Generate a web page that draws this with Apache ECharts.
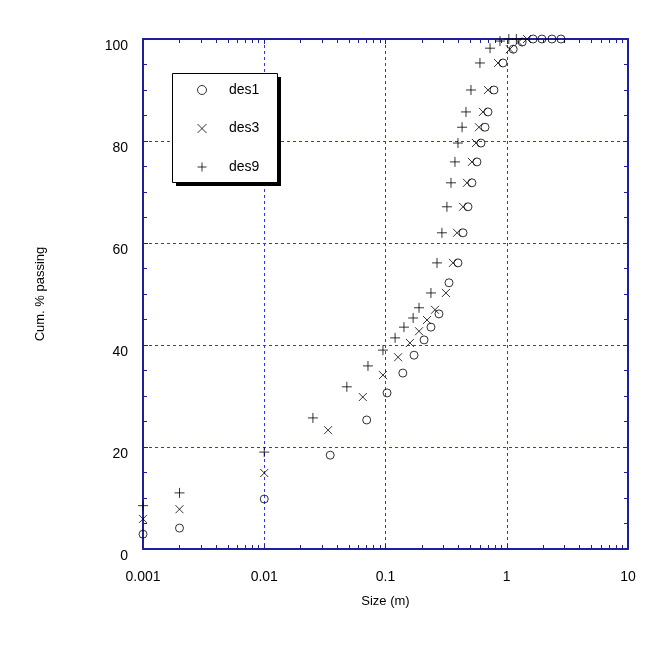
<!DOCTYPE html>
<html>
<head>
<meta charset="utf-8">
<script src="https://cdn.jsdelivr.net/npm/echarts@6/dist/echarts.min.js"></script>
<style>
  html, body { margin: 0; padding: 0; background: #fff; }
  #main { width: 667px; height: 667px; }
</style>
</head>
<body>
<div id="main"></div>
<script>
// sizes in m, cumulative % passing
const des1X = [0.001, 0.002, 0.01, 0.035, 0.07, 0.103, 0.139, 0.172, 0.208, 0.237, 0.276, 0.334, 0.396, 0.436, 0.479, 0.516, 0.568, 0.613, 0.662, 0.70, 0.785, 0.93, 1.13, 1.34, 1.65, 1.95, 2.36, 2.8];
const des1Y = [2.9, 4.1, 9.8, 18.4, 25.3, 30.6, 34.5, 38.0, 41.0, 43.5, 46.1, 52.2, 56.1, 62.0, 67.1, 71.8, 75.9, 79.6, 82.7, 85.7, 90.0, 95.3, 98.0, 99.4, 100, 100, 100, 100];

const des3X = [0.001, 0.002, 0.01, 0.0336, 0.065, 0.0953, 0.127, 0.159, 0.189, 0.22, 0.256, 0.315, 0.36, 0.389, 0.436, 0.47, 0.516, 0.557, 0.59, 0.637, 0.70, 0.847, 1.06, 1.25, 1.47];
const des3Y = [5.9, 7.8, 14.9, 23.3, 29.8, 34.1, 37.6, 40.4, 42.7, 44.9, 46.9, 50.2, 56.1, 62.0, 67.1, 71.8, 75.9, 79.6, 82.7, 85.7, 90.0, 95.3, 98.0, 99.4, 100];

const des9X = [0.001, 0.002, 0.01, 0.0252, 0.048, 0.0717, 0.0953, 0.12, 0.142, 0.169, 0.189, 0.237, 0.266, 0.292, 0.321, 0.347, 0.374, 0.396, 0.428, 0.461, 0.507, 0.601, 0.728, 0.879, 1.04, 1.2];
const des9Y = [8.5, 11.0, 19.0, 25.7, 31.8, 35.9, 39.0, 41.4, 43.5, 45.3, 47.3, 50.2, 56.1, 62.0, 67.1, 71.8, 75.9, 79.6, 82.7, 85.7, 90.0, 95.3, 98.2, 99.6, 100, 100];

const seriesNames = ['des1', 'des3', 'des9'];

const FONT = 'Arial, "Liberation Sans", Helvetica, sans-serif';
const AXIS_COLOR = '#1f1f9e';
const GRID_COLOR = '#3333ee';

const crossPath = 'path://M0,0L10,10M10,0L0,10';
const plusPath = 'path://M5,0L5,10M0,5L10,5';

function pairs(xs, ys) {
  return xs.map((x, i) => [x, ys[i]]);
}

let chart = echarts.init(document.getElementById('main'));

const commonX = {
  type: 'log',
  logBase: 10,
  min: 0.001,
  max: 10,
  axisLine: { show: true, onZero: false, lineStyle: { color: AXIS_COLOR, width: 2 } },
  axisTick: { show: true, inside: true, length: 5, lineStyle: { color: AXIS_COLOR } },
  minorTick: { show: true, splitNumber: 9, length: 4, lineStyle: { color: AXIS_COLOR } },
  minorSplitLine: { show: false }
};

const commonY = {
  type: 'value',
  min: 0,
  max: 100,
  interval: 20,
  axisLine: { show: true, onZero: false, lineStyle: { color: AXIS_COLOR, width: 2 } },
  axisTick: { show: true, inside: true, length: 5, lineStyle: { color: AXIS_COLOR } },
  minorTick: { show: true, splitNumber: 4, length: 4, lineStyle: { color: AXIS_COLOR } },
  minorSplitLine: { show: false }
};

function scatter(name, data, symbol, size) {
  return {
    name: name,
    type: 'scatter',
    data: data,
    symbol: symbol,
    symbolSize: size,
    clip: false,
    itemStyle: { color: 'transparent', borderColor: '#000', borderWidth: 1 },
    emphasis: { disabled: true }
  };
}

let option = {
  animation: false,
  backgroundColor: '#fff',
  textStyle: { fontFamily: FONT },
  grid: { left: 143, right: 39, top: 39, bottom: 118 },
  // legend frame with its hard drop shadow
  graphic: [
    { type: 'rect', left: 176, top: 77, z: 5, shape: { width: 105, height: 109 }, style: { fill: '#000' } },
    { type: 'rect', left: 172, top: 73, z: 6, shape: { width: 105, height: 109 }, style: { fill: '#fff', stroke: '#000', lineWidth: 1 } }
  ],
  legend: {
    orient: 'vertical',
    left: 197,
    top: 83,
    z: 10,
    padding: 0,
    itemGap: 24.5,
    itemWidth: 44,
    itemHeight: 9,
    itemStyle: { borderWidth: 1 },
    textStyle: { fontFamily: FONT, fontSize: 14, color: '#000' },
    data: seriesNames
  },
  xAxis: [
    Object.assign({}, commonX, {
      position: 'bottom',
      name: 'Size (m)',
      nameLocation: 'middle',
      nameGap: 46,
      nameTextStyle: { fontFamily: FONT, fontSize: 13, color: '#000' },
      axisLabel: { show: true, margin: 21, fontFamily: FONT, fontSize: 14, color: '#000' },
      splitLine: { show: true, lineStyle: { color: GRID_COLOR, type: [3, 3], width: 1 } }
    }),
    Object.assign({}, commonX, {
      position: 'top',
      axisLabel: { show: false },
      splitLine: { show: false }
    })
  ],
  yAxis: [
    Object.assign({}, commonY, {
      position: 'left',
      name: 'Cum. % passing',
      nameLocation: 'middle',
      nameGap: 96,
      nameTextStyle: { fontFamily: FONT, fontSize: 13, color: '#000' },
      axisLabel: { show: true, margin: 15, fontFamily: FONT, fontSize: 14, color: '#000', verticalAlign: 'top' },
      splitLine: { show: true, lineStyle: { color: GRID_COLOR, type: [3, 3], width: 1 } }
    }),
    Object.assign({}, commonY, {
      position: 'right',
      axisLabel: { show: false },
      splitLine: { show: false }
    })
  ],
  series: [
    scatter('des1', pairs(des1X, des1Y), 'circle', 8),
    scatter('des3', pairs(des3X, des3Y), crossPath, 8),
    scatter('des9', pairs(des9X, des9Y), plusPath, 10)
  ]
};

chart.setOption(option);
</script>
</body>
</html>
